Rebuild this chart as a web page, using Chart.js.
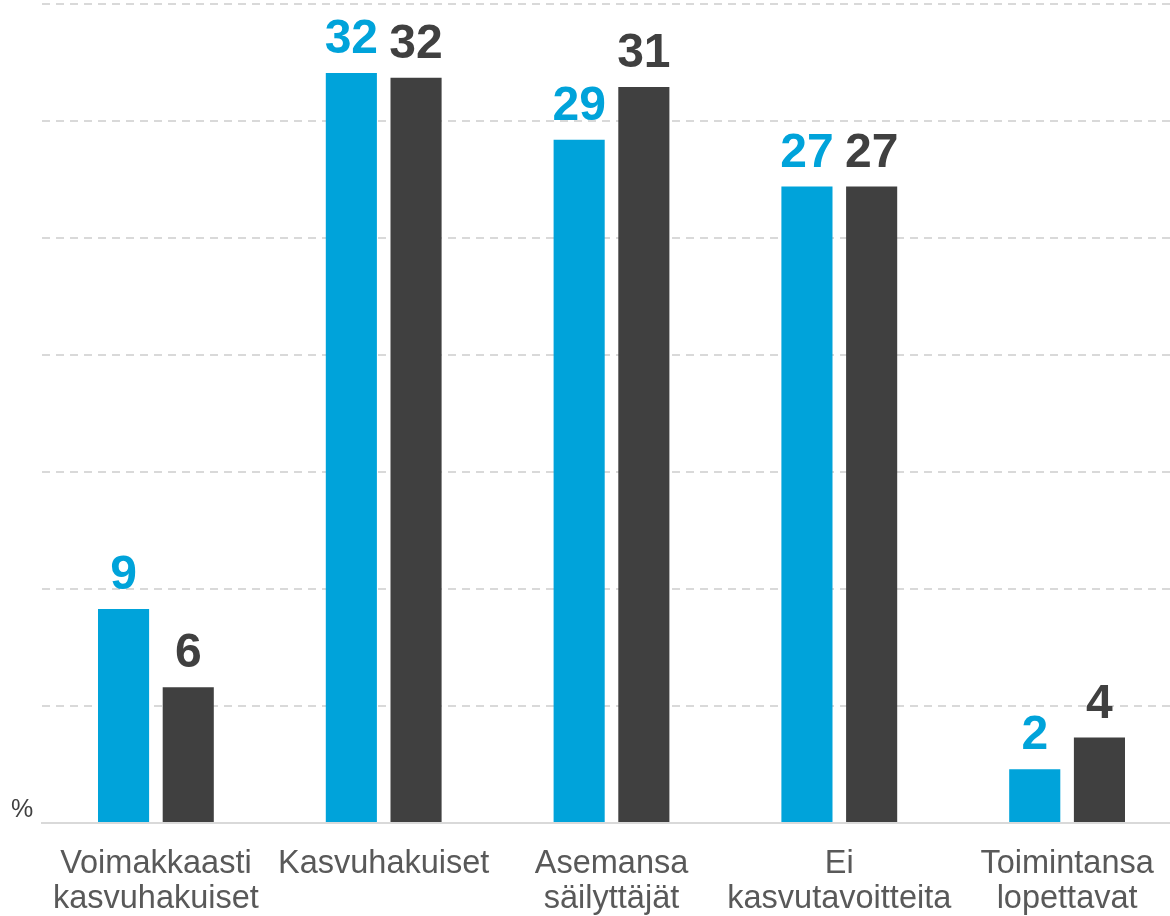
<!DOCTYPE html>
<html>
<head>
<meta charset="utf-8">
<script src="https://cdn.jsdelivr.net/npm/chart.js@4/dist/chart.umd.min.js"></script>
<style>
  html, body { margin: 0; padding: 0; background: #fff; overflow: hidden; }
  #contenedor { position: relative; width: 1181px; height: 916px; }
</style>
</head>
<body>
<div id="contenedor"><canvas id="grafica"></canvas></div>
<script>
// Datos
const categorias = [
  ["Voimakkaasti", "kasvuhakuiset"],
  "Kasvuhakuiset",
  ["Asemansa", "säilyttäjät"],
  ["Ei", "kasvutavoitteita"],
  ["Toimintansa", "lopettavat"]
];
const serieAzul = [9.15, 32.05, 29.2, 27.2, 2.3];
const serieGris = [5.8, 31.85, 31.45, 27.2, 3.65];

const AZUL = '#00A3DA';
const GRIS = '#404040';
const FUENTE = '"Liberation Sans", Arial, sans-serif';

// Etiquetas de valor encima de cada barra y el símbolo %
const etiquetasValor = {
  id: 'etiquetasValor',
  afterDatasetsDraw(chart) {
    const ctx = chart.ctx;
    ctx.save();
    ctx.font = 'bold 48px ' + FUENTE;
    ctx.textAlign = 'center';
    ctx.textBaseline = 'alphabetic';
    chart.data.datasets.forEach((ds, i) => {
      chart.getDatasetMeta(i).data.forEach((barra, j) => {
        ctx.fillStyle = ds.backgroundColor;
        ctx.fillText(Math.round(ds.data[j]), barra.x, barra.y - 20);
      });
    });
    ctx.fillStyle = GRIS;
    ctx.font = '25px ' + FUENTE;
    ctx.textAlign = 'left';
    ctx.fillText('%', 11, 817);
    ctx.restore();
  }
};

new Chart(document.getElementById('grafica'), {
  type: 'bar',
  data: {
    labels: categorias,
    datasets: [
      { data: serieAzul, backgroundColor: AZUL, categoryPercentage: 0.568, barPercentage: 0.79 },
      { data: serieGris, backgroundColor: GRIS, categoryPercentage: 0.568, barPercentage: 0.79 }
    ]
  },
  options: {
    responsive: true,
    maintainAspectRatio: false,
    animation: false,
    layout: { padding: { top: 4, right: 0, left: 0, bottom: 0 } },
    plugins: {
      legend: { display: false },
      tooltip: { enabled: false }
    },
    scales: {
      x: {
        grid: { display: false },
        border: { display: true, color: '#D9D9D9', width: 2 },
        ticks: {
          color: '#595959',
          font: { family: FUENTE, size: 32.5, lineHeight: 1.07 },
          padding: 16,
          maxRotation: 0,
          autoSkip: false
        },
        afterFit: scale => { scale.height = 93; }
      },
      y: {
        min: 0,
        max: 35,
        ticks: { stepSize: 5, display: false },
        grid: {
          drawTicks: false,
          lineWidth: 2,
          color: c => c.tick && c.tick.value === 0 ? 'rgba(0,0,0,0)' : '#D9D9D9'
        },
        border: { display: false, dash: [8, 6] },
        afterFit: scale => { scale.width = 42; }
      }
    }
  },
  plugins: [etiquetasValor]
});
</script>
</body>
</html>
